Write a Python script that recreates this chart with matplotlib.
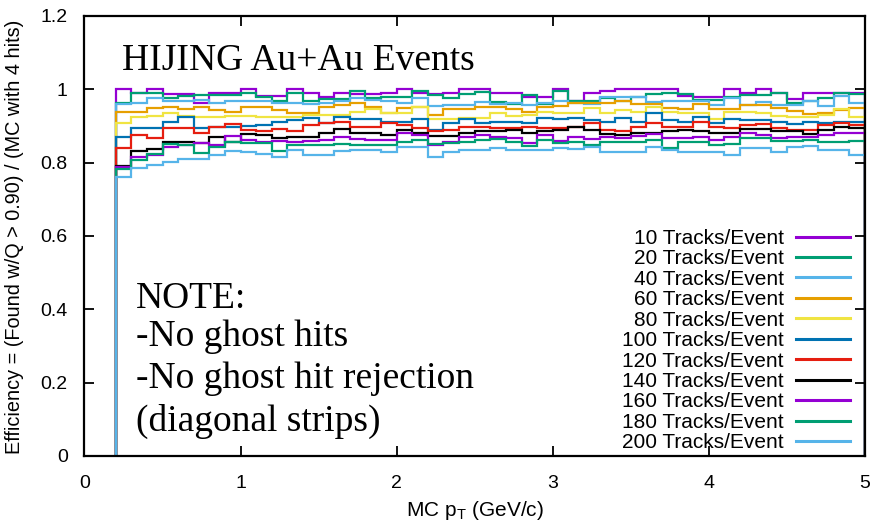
import numpy as np
import matplotlib
matplotlib.use("Agg")
import matplotlib.pyplot as plt

plt.rcParams["font.family"] = ["Liberation Sans", "DejaVu Sans"]
plt.rcParams["mathtext.fontset"] = "custom"
plt.rcParams["mathtext.rm"] = "Liberation Sans"
plt.rcParams["mathtext.it"] = "Liberation Sans:italic"

# pT bin edges: 0.1 GeV/c bins from 0.2 to 5.0
pt_lo, pt_hi, pt_step = 0.2, 5.0, 0.1

labels = ["10 Tracks/Event", "20 Tracks/Event", "40 Tracks/Event", "60 Tracks/Event",
          "80 Tracks/Event", "100 Tracks/Event", "120 Tracks/Event", "140 Tracks/Event",
          "160 Tracks/Event", "180 Tracks/Event", "200 Tracks/Event"]

colors = ["#9400d3", "#009e73", "#56b4e9", "#e69f00", "#f0e442", "#0072b2",
          "#e51e10", "#000000", "#9400d3", "#009e73", "#56b4e9"]

eff_10 = [1.0, 0.991, 1.0, 0.987, 0.987, 0.962, 0.991, 0.991, 1.0, 0.982, 0.982, 1.0,
          0.991, 0.978, 0.991, 0.987, 0.987, 0.991, 1.0, 0.991, 0.987, 0.991, 1.0, 1.0,
          0.989, 0.991, 0.978, 0.978, 1.0, 0.969, 0.989, 0.996, 1.0, 1.0, 1.0, 1.0,
          0.982, 0.980, 0.980, 1.0, 0.991, 1.0, 0.989, 0.973, 0.989, 0.989, 0.989, 0.989]
eff_20 = [0.964, 0.989, 0.989, 0.975, 0.982, 0.985, 0.985, 0.985, 0.991, 0.978, 0.969, 0.989,
          0.969, 0.973, 0.973, 0.996, 0.975, 0.980, 0.980, 0.996, 0.985, 0.975, 0.987, 0.993,
          0.966, 0.960, 0.985, 0.960, 0.996, 0.969, 0.969, 0.975, 0.969, 0.980, 0.987, 0.991,
          0.987, 0.971, 0.971, 0.978, 0.985, 0.985, 0.989, 0.964, 0.969, 0.975, 0.989, 0.987]
eff_40 = [0.960, 0.962, 0.975, 0.969, 0.969, 0.971, 0.962, 0.969, 0.969, 0.969, 0.962, 0.962,
          0.960, 0.962, 0.969, 0.975, 0.971, 0.969, 0.964, 0.975, 0.955, 0.957, 0.957, 0.966,
          0.960, 0.962, 0.957, 0.964, 0.969, 0.962, 0.960, 0.980, 0.980, 0.980, 0.966, 0.969,
          0.969, 0.969, 0.957, 0.975, 0.957, 0.966, 0.957, 0.957, 0.969, 0.955, 0.982, 0.962]
eff_60 = [0.939, 0.939, 0.948, 0.951, 0.945, 0.953, 0.944, 0.939, 0.951, 0.953, 0.944, 0.935,
          0.935, 0.951, 0.956, 0.962, 0.953, 0.935, 0.948, 0.953, 0.930, 0.945, 0.945, 0.951,
          0.951, 0.945, 0.939, 0.951, 0.955, 0.962, 0.962, 0.964, 0.968, 0.960, 0.960, 0.948,
          0.945, 0.960, 0.945, 0.945, 0.957, 0.957, 0.948, 0.942, 0.933, 0.936, 0.944, 0.948]
eff_80 = [0.907, 0.924, 0.927, 0.935, 0.927, 0.924, 0.925, 0.927, 0.927, 0.925, 0.924, 0.925,
          0.930, 0.930, 0.929, 0.939, 0.945, 0.935, 0.935, 0.953, 0.918, 0.918, 0.923, 0.921,
          0.935, 0.927, 0.930, 0.939, 0.935, 0.936, 0.948, 0.935, 0.944, 0.939, 0.953, 0.939,
          0.936, 0.936, 0.918, 0.939, 0.939, 0.935, 0.927, 0.924, 0.924, 0.930, 0.945, 0.924]
eff_100 = [0.871, 0.894, 0.894, 0.912, 0.924, 0.894, 0.896, 0.898, 0.900, 0.903, 0.912, 0.916,
           0.921, 0.909, 0.924, 0.918, 0.918, 0.912, 0.912, 0.918, 0.889, 0.907, 0.918, 0.909,
           0.912, 0.912, 0.909, 0.921, 0.918, 0.921, 0.916, 0.912, 0.921, 0.912, 0.935, 0.915,
           0.912, 0.925, 0.907, 0.918, 0.916, 0.915, 0.912, 0.905, 0.912, 0.909, 0.912, 0.912]
eff_120 = [0.839, 0.875, 0.866, 0.894, 0.894, 0.880, 0.898, 0.905, 0.889, 0.887, 0.891, 0.885,
           0.903, 0.907, 0.912, 0.898, 0.896, 0.907, 0.903, 0.894, 0.885, 0.889, 0.898, 0.898,
           0.894, 0.894, 0.898, 0.894, 0.894, 0.898, 0.907, 0.889, 0.887, 0.898, 0.909, 0.898,
           0.898, 0.912, 0.898, 0.894, 0.903, 0.905, 0.894, 0.889, 0.889, 0.903, 0.907, 0.903]
eff_140 = [0.791, 0.833, 0.836, 0.857, 0.857, 0.853, 0.871, 0.857, 0.878, 0.875, 0.866, 0.869,
           0.871, 0.880, 0.891, 0.880, 0.880, 0.875, 0.889, 0.880, 0.873, 0.873, 0.882, 0.885,
           0.885, 0.889, 0.880, 0.885, 0.889, 0.898, 0.889, 0.878, 0.875, 0.880, 0.880, 0.885,
           0.889, 0.885, 0.882, 0.880, 0.891, 0.891, 0.885, 0.885, 0.878, 0.889, 0.898, 0.894]
eff_160 = [0.789, 0.816, 0.821, 0.844, 0.848, 0.853, 0.848, 0.873, 0.862, 0.857, 0.860, 0.857,
           0.860, 0.862, 0.869, 0.864, 0.862, 0.862, 0.880, 0.875, 0.848, 0.857, 0.871, 0.875,
           0.869, 0.866, 0.853, 0.875, 0.860, 0.871, 0.864, 0.871, 0.866, 0.873, 0.878, 0.866,
           0.866, 0.871, 0.862, 0.871, 0.880, 0.875, 0.866, 0.871, 0.871, 0.875, 0.882, 0.882]
eff_180 = [0.782, 0.807, 0.824, 0.851, 0.848, 0.825, 0.844, 0.857, 0.853, 0.853, 0.833, 0.848,
           0.848, 0.848, 0.851, 0.848, 0.848, 0.848, 0.857, 0.862, 0.851, 0.853, 0.857, 0.862,
           0.864, 0.857, 0.845, 0.862, 0.853, 0.857, 0.848, 0.855, 0.857, 0.857, 0.862, 0.839,
           0.855, 0.855, 0.848, 0.851, 0.866, 0.866, 0.860, 0.860, 0.862, 0.855, 0.855, 0.859]
eff_200 = [0.762, 0.785, 0.794, 0.803, 0.809, 0.809, 0.821, 0.833, 0.830, 0.824, 0.816, 0.835,
           0.821, 0.821, 0.833, 0.835, 0.835, 0.830, 0.844, 0.844, 0.815, 0.830, 0.835, 0.835,
           0.839, 0.835, 0.835, 0.835, 0.839, 0.836, 0.844, 0.830, 0.830, 0.830, 0.844, 0.835,
           0.830, 0.830, 0.830, 0.821, 0.839, 0.839, 0.830, 0.844, 0.845, 0.835, 0.835, 0.821]

series = [eff_10, eff_20, eff_40, eff_60, eff_80, eff_100,
          eff_120, eff_140, eff_160, eff_180, eff_200]

x_ticks = [0, 1, 2, 3, 4, 5]
y_ticks = [0, 0.2, 0.4, 0.6, 0.8, 1.0, 1.2]
y_tick_labels = ["0", "0.2", "0.4", "0.6", "0.8", "1", "1.2"]

nbins = len(eff_10)
edges = pt_lo + pt_step * np.arange(nbins + 1)

fig = plt.figure(figsize=(8.77, 5.21), dpi=100)
ax = fig.add_axes([0.0963, 0.1248, 0.8900, 0.8445])

handles = []
for vals, col, lab in zip(series, colors, labels):
    ax.stairs(vals, edges, baseline=0, color=col, linewidth=1.6, label=lab)
    handles.append(plt.Line2D([], [], color=col, linewidth=2.2))

ax.set_xlim(0, 5)
ax.set_ylim(0, 1.2)
ax.set_xticks(x_ticks)
ax.set_xticklabels([str(t) for t in x_ticks])
ax.set_yticks(y_ticks)
ax.set_yticklabels(y_tick_labels)
ax.tick_params(direction="in", length=7, width=1.3, top=True, right=True, labelsize=14)
ax.tick_params(axis="y", pad=12)
ax.tick_params(axis="x", pad=14)
for sp in ax.spines.values():
    sp.set_linewidth(1.6)

ax.set_xlabel("MC p$_\\mathrm{T}$ (GeV/c)", fontsize=15)
ax.set_ylabel("Efficiency = (Found w/Q > 0.90) / (MC with 4 hits)", fontsize=14.3)
ax.xaxis.set_label_coords(0.5, -0.123)
ax.xaxis.label.set_va("center")
ax.yaxis.set_label_coords(-0.089, 0.497)
ax.yaxis.label.set_va("center")

serif = ["Liberation Serif", "DejaVu Serif"]
ax.text(0.048, 0.877, "HIJING Au+Au Events", transform=ax.transAxes,
        fontsize=27, family=serif, va="baseline", ha="left")
note_lines = ["NOTE:", "-No ghost hits", "-No ghost hit rejection", "(diagonal strips)"]
note_y = [0.337, 0.2505, 0.155, 0.057]
for txt, yy in zip(note_lines, note_y):
    ax.text(0.066, yy, txt, transform=ax.transAxes, fontsize=27, family=serif,
            va="baseline", ha="left")

leg = ax.legend(handles, labels, loc="lower right", bbox_to_anchor=(1.0, -0.025),
                frameon=False, markerfirst=False, fontsize=15, handlelength=2.6,
                handletextpad=0.6, labelspacing=0.07, borderpad=0.2)

fig.savefig("out.png", dpi=100)
